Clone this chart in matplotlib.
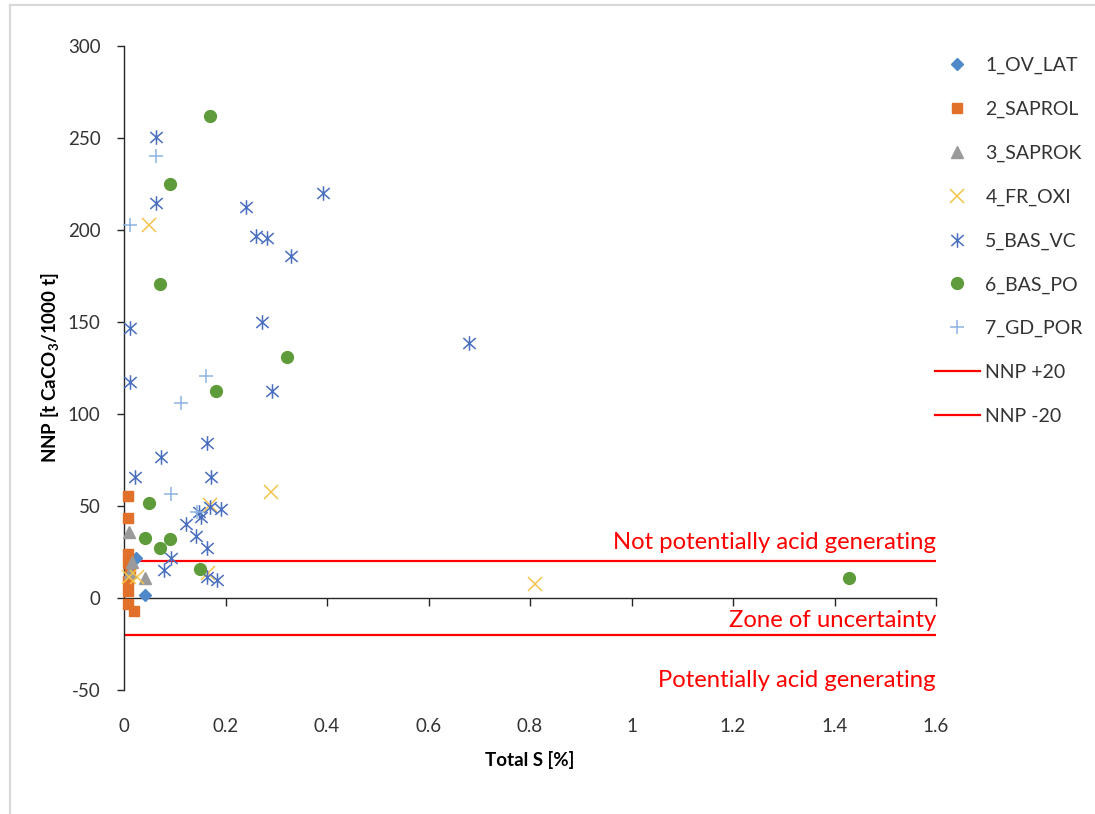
import matplotlib
matplotlib.use("Agg")
import matplotlib.pyplot as plt
from matplotlib.path import Path
from matplotlib.lines import Line2D
import numpy as np

plt.rcParams['font.family'] = ['Lato', 'DejaVu Sans']
plt.rcParams['mathtext.fontset'] = 'custom'
plt.rcParams['mathtext.rm'] = 'Lato'
plt.rcParams['mathtext.bf'] = 'Lato:bold'
plt.rcParams['axes.unicode_minus'] = False

# ---- data: Total S [%] vs NNP [t CaCO3/1000 t] ----
ov_lat_s = [0.024, 0.042]
ov_lat_nnp = [22, 1.5]

saprol_s = [0.008, 0.008, 0.008, 0.008, 0.012, 0.008, 0.008, 0.008, 0.020]
saprol_nnp = [55.5, 43.5, 24, 19, 14, 9, 4, -3, -7]

saprok_s = [0.010, 0.016, 0.012, 0.042]
saprok_nnp = [36, 19.5, 14, 11]

fr_oxi_s = [0.050, 0.290, 0.170, 0.165, 0.810, 0.010, 0.026]
fr_oxi_nnp = [202.5, 57.5, 50.5, 13.5, 7.5, 11.5, 11.5]

bas_vc_s = [0.063, 0.063, 0.240, 0.260, 0.281, 0.330, 0.393, 0.271, 0.012,
            0.012, 0.291, 0.680, 0.163, 0.072, 0.022, 0.171, 0.169, 0.192,
            0.148, 0.151, 0.122, 0.142, 0.163, 0.092, 0.079, 0.163, 0.183]
bas_vc_nnp = [250.5, 214.5, 212.7, 197, 195.5, 186, 220, 150, 147,
              117.5, 112.5, 138.5, 84, 76.5, 66, 66, 49.5, 48.5,
              46.5, 43.8, 40, 33.5, 27, 21.5, 15, 11.5, 10]

bas_po_s = [0.169, 0.091, 0.071, 0.321, 0.181, 0.050, 0.041, 0.091, 0.071,
            0.150, 1.428]
bas_po_nnp = [262, 225, 170.7, 131, 112.5, 51.5, 32.5, 32, 27, 15.5, 11]

gd_por_s = [0.063, 0.011, 0.162, 0.112, 0.092, 0.144]
gd_por_nnp = [240, 202.7, 120.5, 106, 56.5, 46.5]

series_names = ['1_OV_LAT', '2_SAPROL', '3_SAPROK', '4_FR_OXI',
                '5_BAS_VC', '6_BAS_PO', '7_GD_POR']
nnp_limits = [20, -20]
limit_names = ['NNP +20', 'NNP -20']
x_ticks = [0, 0.2, 0.4, 0.6, 0.8, 1.0, 1.2, 1.4, 1.6]
x_tick_labels = ['0', '0.2', '0.4', '0.6', '0.8', '1', '1.2', '1.4', '1.6']
y_ticks = [-50, 0, 50, 100, 150, 200, 250, 300]
zone_labels = ['Not potentially acid generating', 'Zone of uncertainty',
               'Potentially acid generating']
zone_y = [30, -12, -45]

# six-armed asterisk: vertical stroke plus an X
asterisk = Path([(0, -1), (0, 1), (-0.85, -0.75), (0.85, 0.75), (-0.85, 0.75), (0.85, -0.75)],
                [Path.MOVETO, Path.LINETO, Path.MOVETO, Path.LINETO,
                 Path.MOVETO, Path.LINETO])

W, H = 1095, 814
fig = plt.figure(figsize=(W / 100, H / 100), dpi=100)
ax = fig.add_axes([124 / W, 1 - 690 / H, 812 / W, 644 / H])

styles = [
    dict(marker='D', ms=6.5, color='#4F89C9', mec='#4F89C9', ls='none'),
    dict(marker='s', ms=7.5, color='#E0702A', mec='#E0702A', ls='none'),
    dict(marker='^', ms=8, color='#9A9A9A', mec='#9A9A9A', ls='none'),
    dict(marker='x', ms=10, color='#F3C34A', mew=1.1, ls='none'),
    dict(marker=asterisk, ms=10.5, color='#4A6FC0', mfc='none', mec='#4A6FC0', mew=1.1, ls='none'),
    dict(marker='o', ms=8.5, color='#5E9B3A', mec='#5E9B3A', ls='none'),
    dict(marker='+', ms=10, color='#8DB4E2', mew=1.1, ls='none'),
]
data = [(ov_lat_s, ov_lat_nnp), (saprol_s, saprol_nnp), (saprok_s, saprok_nnp),
        (fr_oxi_s, fr_oxi_nnp), (bas_vc_s, bas_vc_nnp), (bas_po_s, bas_po_nnp),
        (gd_por_s, gd_por_nnp)]

handles = []
for (xs, ys), st, name in zip(data, styles, series_names):
    h, = ax.plot(xs, ys, label=name, clip_on=False, zorder=3, **st)
    handles.append(h)

for yv, name in zip(nnp_limits, limit_names):
    h = ax.axhline(yv, xmin=0, xmax=1, color='#FF0000', lw=1.6, label=name, zorder=2)
    handles.append(h)

for txt, yv in zip(zone_labels, zone_y):
    ax.text(1.6, yv, txt, color='#FF0000', fontsize=17.2, ha='right', va='center')

ax.set_xlim(0, 1.6)
ax.set_ylim(-50, 300)

# spines: y axis at x=0, x axis crossing at NNP=0
for s in ['top', 'right']:
    ax.spines[s].set_visible(False)
ax.spines['bottom'].set_position(('data', 0))
ax.spines['bottom'].set_color('#262626')
ax.spines['left'].set_color('#262626')
ax.spines['bottom'].set_linewidth(1.0)
ax.spines['left'].set_linewidth(1.0)
ax.set_xticks(x_ticks)
ax.tick_params(axis='x', direction='out', length=5.5, width=1, color='#262626',
               labelbottom=False)
ax.set_yticks(y_ticks)
ax.tick_params(axis='y', direction='out', length=5, width=1, color='#262626',
               labelsize=13.5, labelcolor='#333333', pad=12)

# x tick labels sit below the plot area
sec = ax.secondary_xaxis(0)
sec.spines['bottom'].set_visible(False)
sec.set_xticks(x_ticks, x_tick_labels)
sec.tick_params(length=0, pad=20, labelsize=13.5, labelcolor='#333333')
sec.set_xlabel('Total S [%]', fontsize=13.5, fontweight='bold', labelpad=12)

ax.set_ylabel(r'NNP [t CaCO$_\mathbf{3}$/1000 t]', fontsize=13.5,
              fontweight='bold', labelpad=4)

leg = fig.legend(handles=handles, loc='upper left',
                 bbox_to_anchor=(927 / W, 1 - 49 / H), frameon=False,
                 fontsize=14, labelspacing=1.37, handlelength=2.3,
                 handletextpad=0.3, borderaxespad=0)
for t in leg.get_texts():
    t.set_color('#333333')

# light frame around the chart area
fig.add_artist(Line2D([10 / W, 10 / W], [0, 1 - 5 / H], transform=fig.transFigure,
                      color='#D9D9D9', lw=1.6))
fig.add_artist(Line2D([10 / W, 1], [1 - 5 / H, 1 - 5 / H], transform=fig.transFigure,
                      color='#D9D9D9', lw=1.6))

fig.savefig('out.png', dpi=100, facecolor='white')
